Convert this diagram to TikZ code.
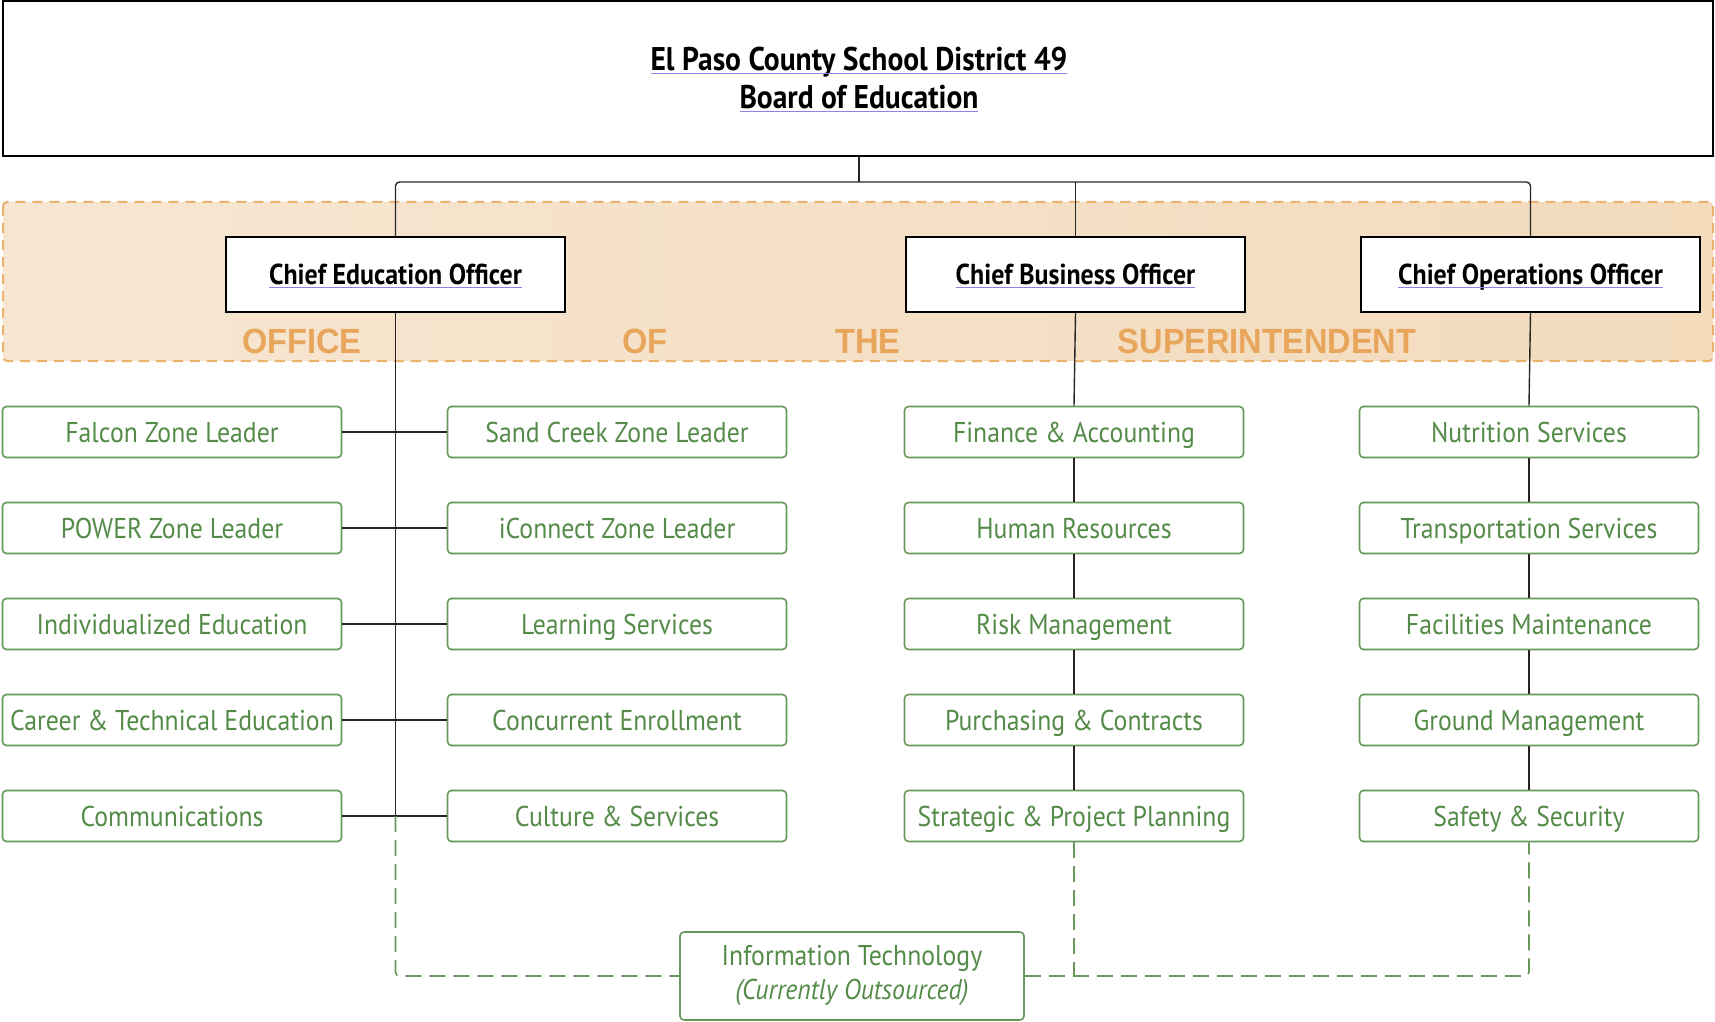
\documentclass[tikz,border=0pt]{standalone}
\usepackage{fontspec}
\setmainfont{PT Sans}[FakeStretch=0.9]
\newfontfamily\bandfont{Liberation Sans}[FakeStretch=0.93]

\definecolor{bandleft}{RGB}{247,230,210}
\definecolor{bandright}{RGB}{243,219,188}
\definecolor{bandline}{RGB}{235,178,110}
\definecolor{bandtext}{RGB}{232,166,92}
\definecolor{unitgreen}{RGB}{84,139,72}
\definecolor{unitline}{RGB}{104,152,90}
\definecolor{linkblue}{RGB}{135,135,232}

\newcommand{\linked}[1]{{\color{linkblue}\underline{\raisebox{0pt}[\height][0pt]{\color{black}#1}}}}

\tikzset{
	head/.style = {draw, line width = 1pt, fill = white, minimum width = 169.5pt, minimum height = 37.5pt, inner sep = 0pt, text height = 10pt, text depth = 0pt, font = \fontsize{14.4}{17}\selectfont\bfseries},
	unit/.style = {draw = unitline, line width = 0.8pt, rounded corners = 2pt, fill = white, text = unitgreen, minimum width = 169.5pt, minimum height = 25.5pt, inner sep = 0pt, text height = 10pt, text depth = 0pt, font = \fontsize{14.3}{17}\selectfont},
	word/.style = {anchor = base, text = bandtext, font = \bandfont\fontsize{17.5}{20}\selectfont\bfseries},
	link/.style = {draw = black!85, line width = 0.7pt},
	itlink/.style = {draw = unitline, line width = 0.8pt, dash pattern = on 8pt off 4pt, rounded corners = 2pt}
}

\begin{document}
\begin{tikzpicture}[x = 0.5pt, y = -0.5pt]
	\useasboundingbox (0,0) rectangle (1715,1022);
	
	% board and superintendent band
	\draw[line width = 1pt] (3,1) rectangle (1713,156);
	\node[align = center, font = \fontsize{16.4}{19}\selectfont\bfseries] (BOARD) at (859,80) {\linked{El Paso County School District 49}\\\linked{Board of Education}};
	\path[left color = bandleft, right color = bandright, rounded corners = 2pt] (3,202) rectangle (1713,361);
	\draw[bandline, line width = 1pt, dash pattern = on 5pt off 3.5pt, rounded corners = 2pt] (3,202) rectangle (1713,361);
	\node[word] (W1) at (302,353) {OFFICE};
	\node[word] (W2) at (645,353) {OF};
	\node[word] (W3) at (868,353) {THE};
	\node[word] (W4) at (1267,353) {SUPERINTENDENT};
	
	\coordinate (J) at (859,182);
	\node[head] (CEO) at (395.5,274.5) {\linked{Chief Education Officer}};
	\node[head] (CBO) at (1075.5,274.5) {\linked{Chief Business Officer}};
	\node[head] (COO) at (1530.5,274.5) {\linked{Chief Operations Officer}};
	\draw[link] (BOARD.south |- 0,156) -- (J);
	\draw[link, rounded corners = 2pt] (CEO.north) |- (J) -| (COO.north);
	\draw[link] (CBO.north) -- (CBO.north |- J);
	
	% departments
	\foreach \t [count = \i] in {Falcon Zone Leader, POWER Zone Leader, Individualized Education, Career \& Technical Education, Communications}
		\node[unit] (L\i) at (172,336+96*\i) {\t};
	\foreach \t [count = \i] in {Sand Creek Zone Leader, iConnect Zone Leader, Learning Services, Concurrent Enrollment, Culture \& Services}
		\node[unit] (R\i) at (617,336+96*\i) {\t};
	\foreach \t [count = \i] in {Finance \& Accounting, Human Resources, Risk Management, Purchasing \& Contracts, Strategic \& Project Planning}
		\node[unit] (B\i) at (1074,336+96*\i) {\t};
	\foreach \t [count = \i] in {Nutrition Services, Transportation Services, Facilities Maintenance, Ground Management, Safety \& Security}
		\node[unit] (O\i) at (1529,336+96*\i) {\t};
	\node[unit, minimum width = 172pt, minimum height = 44pt, text height = , text depth = , align = center] (IT) at (852,976) {Information Technology\\\textit{(Currently Outsourced)}};
	
	\draw[link] (CEO.south) -- (CEO.south |- L5);
	\foreach \i in {1,...,5}
		\draw[link] (L\i.east) -- (R\i.west);
	\draw[link] (CBO.south) -- (B1.north);
	\draw[link] (COO.south) -- (O1.north);
	\foreach \i [evaluate = \i as \j using int(\i+1)] in {1,...,4}{
		\draw[link] (B\i.south) -- (B\j.north);
		\draw[link] (O\i.south) -- (O\j.north);
	}
	
	% outsourced IT
	\draw[itlink] (CEO.south |- L5) |- (IT.west);
	\draw[itlink] (IT.east) -| (O5.south);
	\draw[itlink] (B5.south) -- (B5.south |- IT.west);
\end{tikzpicture}
\end{document}
